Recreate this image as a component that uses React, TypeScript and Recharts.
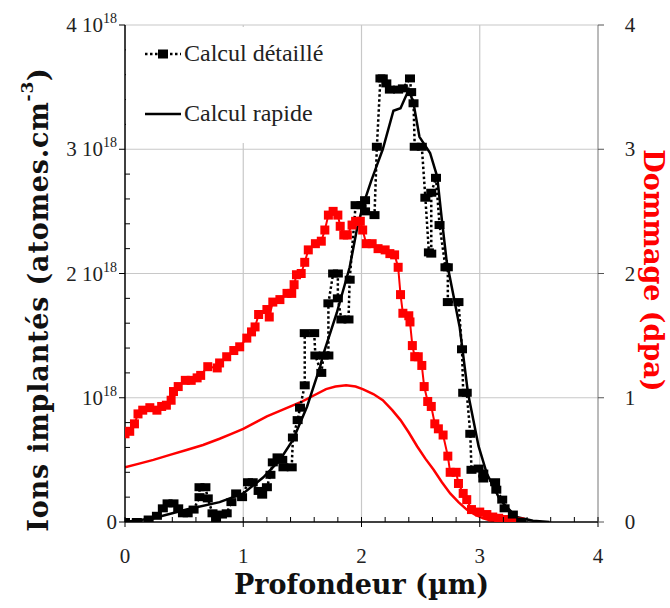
import React from 'react';
import { LineChart, Line, XAxis, YAxis, ReferenceLine } from 'recharts';

// depth (µm), ions (1e18 at/cm3) -- detailed calculation, histogram-like
const detailedIons: [number, number][] = [
  [0, 0], [0.1, 0.0], [0.2, 0.02], [0.27, 0.05], [0.32, 0.11], [0.36, 0.15], [0.41, 0.15],
  [0.45, 0.11], [0.49, 0.07], [0.53, 0.07], [0.58, 0.1], [0.63, 0.2], [0.63, 0.28],
  [0.68, 0.28], [0.7, 0.19], [0.74, 0.07], [0.77, 0.02], [0.82, 0.06], [0.86, 0.07],
  [0.9, 0.16], [0.94, 0.23], [0.99, 0.2], [1.04, 0.32], [1.08, 0.32], [1.13, 0.25],
  [1.16, 0.22], [1.2, 0.28], [1.23, 0.38], [1.25, 0.48], [1.29, 0.52], [1.33, 0.5],
  [1.34, 0.44], [1.41, 0.44], [1.42, 0.68], [1.46, 0.82], [1.48, 0.92], [1.52, 1.1],
  [1.52, 1.52], [1.6, 1.52], [1.61, 1.34], [1.66, 1.2], [1.68, 1.34], [1.72, 1.34],
  [1.72, 1.76], [1.76, 2.0], [1.8, 2.0], [1.8, 1.8], [1.83, 1.63], [1.89, 1.63],
  [1.9, 1.95], [1.95, 2.55], [2.0, 2.55], [2.03, 2.59], [2.03, 2.5], [2.11, 2.47],
  [2.13, 3.02], [2.16, 3.57], [2.18, 3.57], [2.21, 3.53], [2.24, 3.48], [2.31, 3.48],
  [2.35, 3.49], [2.41, 3.57], [2.42, 3.46], [2.44, 3.37], [2.45, 3.02], [2.51, 3.02],
  [2.54, 2.61], [2.57, 2.17], [2.59, 2.16], [2.59, 2.65], [2.63, 2.77], [2.66, 2.39],
  [2.71, 2.05], [2.73, 2.05], [2.73, 1.77], [2.82, 1.77], [2.85, 1.39], [2.86, 1.04],
  [2.89, 1.04], [2.92, 0.71], [2.93, 0.42], [2.99, 0.43], [3.03, 0.39], [3.03, 0.35],
  [3.13, 0.32], [3.14, 0.26], [3.19, 0.18], [3.21, 0.11], [3.28, 0.06], [3.35, 0.0],
];

// quick calculation, ions
const rapidIons: [number, number][] = [
  [0, 0], [0.24, 0.03], [0.52, 0.1], [0.8, 0.16], [1.0, 0.23], [1.17, 0.36], [1.31, 0.5],
  [1.42, 0.66], [1.54, 0.93], [1.65, 1.25], [1.68, 1.36], [1.79, 1.68], [1.9, 2.05],
  [1.96, 2.35], [2.01, 2.54], [2.08, 2.74], [2.13, 2.87], [2.18, 3.0], [2.27, 3.31],
  [2.33, 3.33], [2.4, 3.48], [2.44, 3.37], [2.49, 3.1], [2.58, 2.97], [2.64, 2.78],
  [2.68, 2.43], [2.72, 2.1], [2.83, 1.57], [2.9, 1.04], [2.99, 0.61], [3.06, 0.39],
  [3.17, 0.18], [3.31, 0.04], [3.45, 0.01], [3.59, 0.0],
];

// damage (dpa) -- detailed calculation
const detailedDpa: [number, number][] = [
  [0.0, 0.71], [0.04, 0.73], [0.08, 0.79], [0.11, 0.87], [0.15, 0.9], [0.21, 0.92],
  [0.27, 0.9], [0.31, 0.93], [0.35, 0.94], [0.39, 0.98], [0.41, 1.05], [0.45, 1.09],
  [0.51, 1.14], [0.56, 1.14], [0.61, 1.16], [0.64, 1.18], [0.7, 1.25], [0.78, 1.24],
  [0.8, 1.28], [0.86, 1.33], [0.92, 1.38], [0.97, 1.41], [1.03, 1.48], [1.07, 1.53],
  [1.1, 1.57], [1.13, 1.67], [1.2, 1.71], [1.22, 1.65], [1.25, 1.77], [1.31, 1.79],
  [1.37, 1.84], [1.41, 1.84], [1.43, 1.91], [1.45, 1.99], [1.49, 2.0], [1.52, 2.09],
  [1.55, 2.19], [1.61, 2.24], [1.66, 2.26], [1.69, 2.35], [1.72, 2.47], [1.76, 2.5],
  [1.8, 2.47], [1.82, 2.38], [1.85, 2.31], [1.88, 2.31], [1.92, 2.39], [1.95, 2.42],
  [1.99, 2.42], [2.01, 2.35], [2.04, 2.24], [2.09, 2.24], [2.14, 2.2], [2.2, 2.19],
  [2.24, 2.16], [2.28, 2.15], [2.31, 2.05], [2.33, 1.83], [2.35, 1.68], [2.4, 1.66],
  [2.41, 1.61], [2.43, 1.42], [2.45, 1.33], [2.48, 1.33], [2.51, 1.26], [2.53, 1.09],
  [2.56, 0.97], [2.59, 0.93], [2.62, 0.79], [2.65, 0.75], [2.69, 0.7], [2.73, 0.53],
  [2.75, 0.4], [2.8, 0.4], [2.82, 0.31], [2.86, 0.23], [2.89, 0.18], [2.93, 0.1],
  [3.0, 0.08], [3.06, 0.06], [3.11, 0.04], [3.16, 0.03], [3.21, 0.02], [3.28, 0.0], [3.34, 0.0],
];

// damage (dpa) -- quick calculation
const rapidDpa: [number, number][] = [
  [0, 0.44], [0.12, 0.47], [0.24, 0.5], [0.38, 0.54], [0.52, 0.58], [0.66, 0.62],
  [0.8, 0.67], [0.9, 0.71], [1.0, 0.75], [1.1, 0.8], [1.2, 0.85], [1.3, 0.89],
  [1.4, 0.93], [1.5, 0.97], [1.6, 1.02], [1.7, 1.07], [1.78, 1.09], [1.87, 1.1],
  [1.95, 1.09], [2.01, 1.07], [2.1, 1.03], [2.18, 0.98], [2.26, 0.9], [2.33, 0.82],
  [2.4, 0.72], [2.47, 0.61], [2.54, 0.51], [2.61, 0.42], [2.68, 0.32], [2.75, 0.23],
  [2.82, 0.16], [2.89, 0.1], [2.96, 0.06], [3.03, 0.03], [3.1, 0.01], [3.17, 0.0],
];

const depthTicks = [0, 0.2, 0.4, 0.6, 0.8, 1, 1.2, 1.4, 1.6, 1.8, 2, 2.2, 2.4, 2.6, 2.8, 3, 3.2, 3.4, 3.6, 3.8, 4];
const ionTicks = [0, 0.2, 0.4, 0.6, 0.8, 1, 1.2, 1.4, 1.6, 1.8, 2, 2.2, 2.4, 2.6, 2.8, 3, 3.2, 3.4, 3.6, 3.8, 4];
const dpaTicks = [0, 1, 2, 3, 4];
const gridValues = [1, 2, 3];

const toRows = (pts: [number, number][]) => pts.map(([x, v]) => ({ x, v }));

const SERIF = '"Liberation Serif", "DejaVu Serif", serif';
const TITLE = '"DejaVu Serif", serif';
const RED = '#ff0000';

const isMajor = (v: number) => Math.abs(v - Math.round(v)) < 1e-6;

const LeftTick = (props: any) => {
  const { x, y, payload } = props;
  const v = payload.value;
  const ax = x + 10;
  if (!isMajor(v)) {
    return <line x1={ax} x2={ax + 5} y1={y} y2={y} stroke="#000" strokeWidth={1} />;
  }
  return (
    <g>
      <line x1={ax - 6} x2={ax} y1={y} y2={y} stroke="#000" strokeWidth={1} />
      <text x={ax - 8} y={y + 7} textAnchor="end" fontFamily={SERIF} fontSize={21} fill="#222">
        {v === 0 ? '0' : (
          <>
            <tspan>{v === 1 ? '10' : `${v} 10`}</tspan>
            <tspan fontSize={14} dy={-9}>18</tspan>
          </>
        )}
      </text>
    </g>
  );
};

const RightTick = (props: any) => {
  const { x, y, payload } = props;
  const ax = x - 10;
  return (
    <g>
      <line x1={ax} x2={ax + 6} y1={y} y2={y} stroke="#555" strokeWidth={1} />
      <text x={ax + 32} y={y + 7} textAnchor="middle" fontFamily={SERIF} fontSize={21} fill="#222">
        {payload.value}
      </text>
    </g>
  );
};

const BottomTick = (props: any) => {
  const { x, y, payload } = props;
  const v = payload.value;
  const ay = y - 10;
  if (!isMajor(v)) {
    return <line x1={x} x2={x} y1={ay} y2={ay - 5} stroke="#000" strokeWidth={1} />;
  }
  return (
    <g>
      <line x1={x} x2={x} y1={ay + 5} y2={ay - 5} stroke="#000" strokeWidth={1} />
      <text x={x} y={ay + 41} textAnchor="middle" fontFamily={SERIF} fontSize={21} fill="#222">
        {v}
      </text>
    </g>
  );
};

const LeftTitle = (props: any) => {
  const { x, y, height } = props.viewBox;
  const cx = x + 38;
  const cy = y + height / 2 + 26;
  return (
    <text x={cx} y={cy} transform={`rotate(-90 ${cx} ${cy})`} textAnchor="middle"
      dominantBaseline="central" fontFamily={TITLE} fontWeight="bold" fontSize={27}
      letterSpacing={0.8} fill="#111">
      <tspan>Ions implantés (atomes.cm</tspan>
      <tspan fontSize={17} dy={-11}>-3</tspan>
      <tspan dy={11}>)</tspan>
    </text>
  );
};

const RightTitle = (props: any) => {
  const { x, y, height } = props.viewBox;
  const cx = x + 55;
  const cy = y + height / 2 - 3;
  return (
    <text x={cx} y={cy} transform={`rotate(90 ${cx} ${cy})`} textAnchor="middle"
      dominantBaseline="central" fontFamily={TITLE} fontWeight="bold" fontSize={27} fill={RED}>
      Dommage (dpa)
    </text>
  );
};

const BottomTitle = (props: any) => {
  const { x, y, width } = props.viewBox;
  return (
    <text x={x + width / 2} y={y + 72} textAnchor="middle" fontFamily={TITLE}
      fontWeight="bold" fontSize={27} fill="#111">
      Profondeur (µm)
    </text>
  );
};

const square = (color: string, w: number, h: number) => (props: any) => {
  const { cx, cy, index } = props;
  if (cx == null || cy == null) return <g key={index} />;
  return <rect key={index} x={cx - w / 2} y={cy - h / 2} width={w} height={h} fill={color} />;
};

const LegendBox = () => (
  <div style={{
    position: 'absolute', left: 126, top: 27, width: 226, height: 116,
    background: '#fff', fontFamily: SERIF, fontSize: 24, color: '#222',
  }}>
    <div style={{ position: 'absolute', left: 18, top: 13, display: 'flex', alignItems: 'center' }}>
      <svg width={38} height={14}>
        <line x1={1} x2={37} y1={7} y2={7} stroke="#000" strokeWidth={2.5} strokeDasharray="2.5 2.5" />
        <rect x={14} y={2.5} width={10} height={9} fill="#000" />
      </svg>
      <span style={{ marginLeft: 2 }}>Calcul détaillé</span>
    </div>
    <div style={{ position: 'absolute', left: 18, top: 73, display: 'flex', alignItems: 'center' }}>
      <svg width={38} height={14}>
        <line x1={1} x2={37} y1={7} y2={7} stroke="#000" strokeWidth={2.5} />
      </svg>
      <span style={{ marginLeft: 2 }}>Calcul rapide</span>
    </div>
  </div>
);

export default function App() {
  return (
    <div style={{ position: 'absolute', left: 0, top: 0, width: 670, height: 608, background: '#fff' }}>
      <LineChart width={670} height={608} margin={{ top: 25, right: 0, bottom: 0, left: 0 }}>
        <XAxis type="number" dataKey="x" domain={[0, 4]} ticks={depthTicks} allowDataOverflow
          height={86} tickSize={6} tickMargin={4} tick={<BottomTick />} tickLine={false}
          axisLine={{ stroke: '#000', strokeWidth: 1.5 }} interval={0}
          label={{ content: BottomTitle }} />
        <YAxis yAxisId="ions" domain={[0, 4]} ticks={ionTicks} allowDataOverflow width={125}
          tickSize={6} tickMargin={4} tick={<LeftTick />} tickLine={false} interval={0}
          axisLine={{ stroke: '#000', strokeWidth: 1.5 }} label={{ content: LeftTitle }} />
        <YAxis yAxisId="dpa" orientation="right" domain={[0, 4]} ticks={dpaTicks} allowDataOverflow
          width={72} tickSize={6} tickMargin={4} tick={<RightTick />} tickLine={false} interval={0}
          axisLine={{ stroke: '#777', strokeWidth: 1 }} label={{ content: RightTitle }} />

        {gridValues.map((g) => (
          <ReferenceLine key={`vx${g}`} yAxisId="ions" x={g} stroke="#c8c8c8" strokeWidth={1.2} />
        ))}
        {gridValues.map((g) => (
          <ReferenceLine key={`hy${g}`} yAxisId="ions" y={g} stroke="#c8c8c8" strokeWidth={1.2} />
        ))}
        <ReferenceLine yAxisId="ions" y={4} stroke="#c8c8c8" strokeWidth={1.2} />

        <Line yAxisId="dpa" data={toRows(rapidDpa)} dataKey="v" type="linear" stroke={RED}
          strokeWidth={2.5} dot={false} isAnimationActive={false} />
        <Line yAxisId="dpa" data={toRows(detailedDpa)} dataKey="v" type="linear" stroke={RED}
          strokeWidth={2} dot={square(RED, 9, 9)} isAnimationActive={false} />
        <Line yAxisId="ions" data={toRows(detailedIons)} dataKey="v" type="linear" stroke="#000"
          strokeWidth={2.5} strokeDasharray="2.5 2.5" dot={square('#000', 10, 8)} isAnimationActive={false} />
        <Line yAxisId="ions" data={toRows(rapidIons)} dataKey="v" type="linear" stroke="#000"
          strokeWidth={2.5} dot={false} isAnimationActive={false} />
      </LineChart>
      <LegendBox />
    </div>
  );
}
